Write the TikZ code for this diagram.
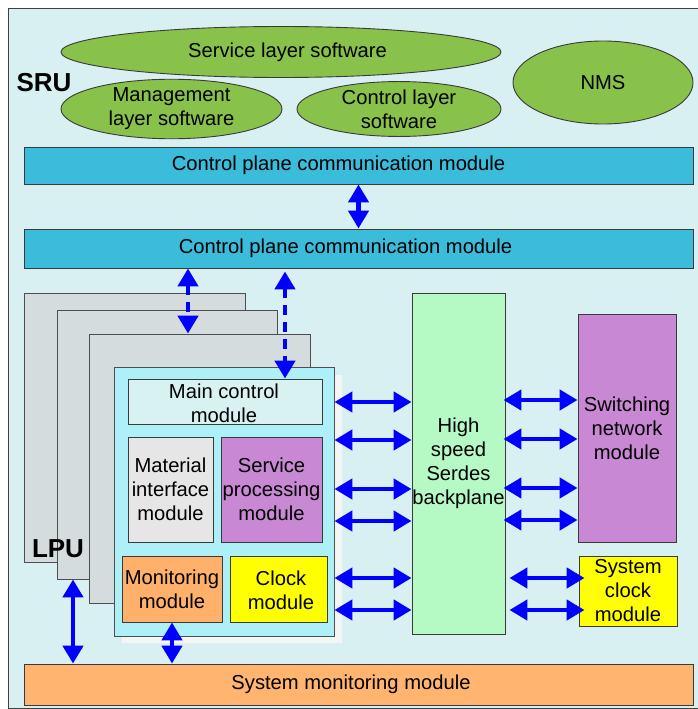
\documentclass[tikz,border=0pt]{standalone}
\usepackage{fontspec}
\setmainfont{Liberation Sans}
\usetikzlibrary{arrows.meta,shapes.geometric}

\definecolor{bgcyan}{HTML}{D8F0F1}
\definecolor{barblue}{HTML}{3BBCDA}
\definecolor{swgreen}{HTML}{88C24A}
\definecolor{cardgray}{HTML}{D5DCDE}
\definecolor{frontcyan}{HTML}{AEF0F8}
\definecolor{mcmfill}{HTML}{D8F2F2}
\definecolor{matgray}{HTML}{E6E6E6}
\definecolor{violet}{HTML}{C888D3}
\definecolor{monorange}{HTML}{FFB16C}
\definecolor{sysorange}{HTML}{FFB56F}
\definecolor{clkyellow}{HTML}{FFFF00}
\definecolor{bpgreen}{HTML}{B5F9C4}
\definecolor{arrowblue}{HTML}{0000FF}
\definecolor{edge}{HTML}{3A3A3A}
\definecolor{shadowgray}{HTML}{F4F6F6}

\tikzset{
  x=1pt, y=-1pt,
  txt/.style={font=\fontsize{20.2}{24}\selectfont, align=center, text=black},
  blk/.style={txt, draw=edge, line width=0.9pt, inner sep=0pt, rectangle},
  soft/.style={txt, draw=edge, line width=0.9pt, fill=swgreen, ellipse, inner sep=0pt},
  card/.style={draw=edge!90, line width=0.9pt, fill=cardgray, rectangle, inner sep=0pt,
               minimum width=221pt, minimum height=269pt},
  big/.style={font=\fontsize{26}{30}\selectfont\bfseries, text=black, inner sep=0pt},
  dbl/.style={draw=arrowblue, line width=4.5pt,
              {Triangle[length=18pt,width=20pt]}-{Triangle[length=18pt,width=20pt]}},
  dbldash/.style={dbl, dash pattern=on 10pt off 7pt},
}

\begin{document}
\begin{tikzpicture}
\useasboundingbox (0,0) rectangle (697,709);

% frame of the whole unit
\fill[white] (0,0) rectangle (697,709);
\draw[fill=bgcyan, draw=black!75, line width=0.9pt] (8,8.5) rectangle (710,708);

% SRU software
\node[soft, minimum width=440pt, minimum height=51pt] (svc) at (281,52) {};
\node[txt] (svct) at (287.5,52) {Service layer software};
\node[soft, minimum width=221pt, minimum height=50pt] (mgmt) at (171.5,109) {Management\\layer software};
\node[soft, minimum width=204pt, minimum height=50pt] (ctl) at (399,109) {Control layer\\software};
\node[soft, minimum width=180pt, minimum height=83pt] (nms) at (603,82.5) {NMS};

% control plane buses
\node[blk, fill=barblue, minimum width=669pt, minimum height=37pt] (cpc1) at (358.5,165.5) {};
\node[txt] (cpc1t) at (338.5,165.5) {Control plane communication module};
\node[blk, fill=barblue, minimum width=669pt, minimum height=39pt] (cpc2) at (358.5,248.5) {};
\node[txt] (cpc2t) at (345.5,248) {Control plane communication module};

% LPU card stack
\node[card] (card1) at (134.5,427.5) {};
\node[card, minimum width=220pt] (card2) at (167,444.5) {};
\node[card] (card3) at (199.5,468.5) {};
\fill[shadowgray] (122,375) rectangle (342,643);
\node[card, fill=frontcyan, minimum width=220pt] (card4) at (224,501.5) {};

% modules on the front card
\node[blk, fill=mcmfill, minimum width=194pt, minimum height=45pt] (mcm) at (225,401.5) {};
\node[txt] (mcmt) at (224,403) {Main control\\module};
\node[blk, fill=matgray, minimum width=85pt, minimum height=105pt] (mat) at (170.5,489.5) {Material\\interface\\module};
\node[blk, fill=violet, minimum width=101pt, minimum height=105pt] (spm) at (271.5,489.5) {Service\\processing\\module};
\node[blk, fill=monorange, minimum width=100pt, minimum height=66pt] (mon) at (172,589) {Monitoring\\module};
\node[blk, fill=clkyellow, minimum width=97pt, minimum height=66pt] (clk) at (278.5,589) {};
\node[txt] (clkt) at (281,590) {Clock\\module};

% backplane and central modules
\node[blk, fill=bpgreen, minimum width=93pt, minimum height=341pt] (bp) at (458.5,463.5) {High\\speed\\Serdes\\backplane};
\node[blk, fill=violet, minimum width=98pt, minimum height=228pt] (sw) at (627,428) {Switching\\network\\module};
\node[blk, fill=clkyellow, minimum width=98pt, minimum height=70pt] (sck) at (628,591) {System\\clock\\module};
\node[blk, fill=sysorange, minimum width=669pt, minimum height=41pt] (smm) at (358.5,684.5) {};
\node[txt] (smmt) at (351,684.5) {System monitoring module};

% row and column guides for the links
\coordinate (r1) at (0,402);
\coordinate (r2) at (0,440);
\coordinate (r3) at (0,489);
\coordinate (r4) at (0,521);
\coordinate (r5) at (0,578);
\coordinate (r6) at (0,610);
\coordinate (s1) at (0,400);
\coordinate (s2) at (0,439);
\coordinate (s3) at (0,488);
\coordinate (s4) at (0,520);
\coordinate (v1) at (188,0);
\coordinate (v2) at (285,0);
\coordinate (v3) at (73,0);

% links: LPU <-> backplane
\foreach \r in {r1,r2,r3,r4,r5,r6}
  \draw[dbl] (card4.east |- \r) -- (bp.west |- \r);
% links: backplane <-> switching network
\foreach \s in {s1,s2,s3,s4}
  \draw[dbl] ([xshift=-2pt]bp.east |- \s) -- (sw.west |- \s);
% links: backplane <-> system clock
\foreach \r in {r5,r6}
  \draw[dbl] ([xshift=4pt]bp.east |- \r) -- ([xshift=6pt]sck.west |- \r);

% vertical links
\draw[dbl] (cpc1.south) -- (cpc2.north);
\draw[dbldash] (cpc2.south -| v1) -- (card3.north -| v1);
\draw[dbldash] ([yshift=-3pt]cpc2.south -| v2) -- (mcm.north -| v2);
\draw[dbl] (card2.south -| v3) -- (smm.north -| v3);
\draw[dbl] (mon.south) -- (smm.north -| mon.south);

% unit labels
\node[big] (sru) at (44,83) {SRU};
\node[big] (lpu) at (58,549) {LPU};
\end{tikzpicture}
\end{document}
